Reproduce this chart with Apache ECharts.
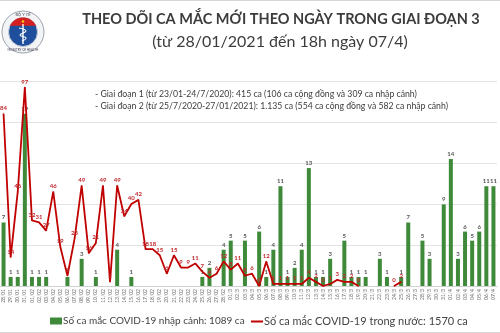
<!DOCTYPE html>
<html>
<head>
<meta charset="utf-8">
<script src="https://cdn.jsdelivr.net/npm/echarts@6/dist/echarts.min.js"></script>
<style>
  html, body { margin: 0; padding: 0; background: #fff; }
  #chart { width: 500px; height: 333px; }
</style>
</head>
<body>
<div id="chart"></div>
<script>
// Ngày (trục hoành)
const dates = [
  '28/01','29/01','30/01','31/01',
  '01/02','02/02','03/02','04/02','05/02','06/02','07/02','08/02','09/02','10/02',
  '11/02','12/02','13/02','14/02','15/02','16/02','17/02','18/02','19/02','20/02',
  '21/02','22/02','23/02','24/02','25/02','26/02','27/02','28/02',
  '01/3','02/3','03/3','04/3','05/3','06/3','07/3','08/3','09/3','10/3',
  '11/3','12/3','13/3','14/3','15/3','16/3','17/3','18/3','19/3','20/3',
  '21/3','22/3','23/3','24/3','25/3','26/3','27/3','28/3','29/3','30/3','31/3',
  '01/4','02/4','03/4','04/4','05/4','06/4','07/4'
];

// Số ca nhập cảnh mỗi ngày (cột xanh)
const importedCases = [
  7, 1, 1, 19,
  1, 1, 1, 0, 0, 1, 0, 3, 0, 1,
  0, 0, 4, 0, 1, 0, 0, 0, 0, 0,
  0, 0, 0, 0, 1, 2, 0, 4,
  5, 0, 5, 0, 6, 1, 4, 11, 1, 2,
  4, 13, 1, 1, 3, 0, 5, 1, 1, 1,
  0, 3, 1, 0, 1, 7, 0, 5, 3, 0, 9,
  14, 3, 6, 5, 6, 11, 11
];

// Số ca trong nước mỗi ngày (đường đỏ); null = không ghi nhận
const domesticCases = [
  84, 14, 46, 97,
  32, 31, 27, 46, 19, 5, 23, 49, 16, 21,
  49, 2, 49, 34, 40, 42, 18, 18, 15, 6,
  15, 9, 9, 11, 7, 4, 6, 12,
  8, 11, 5, 6, 0, 12, 1, 1, 1, 1,
  1, 4, 2, 0, 1, 3, 2, 2, 0, null,
  null, null, null, 0, 2, null, null, null, null, null, null,
  null, null, null, null, null, null, null
];

const nameImported = 'Số ca mắc COVID-19 nhập cảnh: 1089 ca';
const nameDomestic = 'Số ca mắc COVID-19 trong nước: 1570 ca';

const noteLines = [
  '- Giai đoạn 1 (từ 23/01-24/7/2020): 415 ca (106 ca cộng đồng và 309 ca nhập cảnh)',
  '- Giai đoạn 2 (từ 25/7/2020-27/01/2021): 1.135 ca (554 ca cộng đồng và 582 ca nhập cảnh)'
];

const FONT = 'Lato, "Open Sans", sans-serif';
const GREEN = '#3f8a3a';
const RED = '#c00000';

const chart = echarts.init(document.getElementById('chart'), null, { renderer: 'canvas' });

// Biểu trưng Bộ Y tế (vẽ đơn giản)
const cx = 23, cy = 32, rIn = 14.5;
const capPoints = [];
for (let a = 205; a <= 335; a += 5) {
  const t = a * Math.PI / 180;
  capPoints.push([cx + rIn * Math.cos(t), cy + rIn * Math.sin(t)]);
}
const logo = [
  { type: 'circle', shape: { cx, cy, r: 21 }, style: { fill: '#f3f4f6', stroke: '#9aa3ad', lineWidth: 1 } },
  { type: 'circle', shape: { cx, cy, r: rIn }, style: { fill: '#1f4f9c', stroke: '#c9ced6', lineWidth: 1 } },
  { type: 'polygon', shape: { points: capPoints }, style: { fill: '#d42020' } },
  { type: 'circle', shape: { cx, cy: 21.5, r: 1.3 }, style: { fill: '#f5d000' } },
  { type: 'line', shape: { x1: cx, y1: 24, x2: cx, y2: 44 }, style: { stroke: '#ffffff', lineWidth: 1.4 } },
  { type: 'polyline', shape: { points: [[19, 28], [26, 31], [20, 35], [26, 38], [22, 41]], smooth: 0.5 }, style: { fill: null, stroke: '#ffffff', lineWidth: 1.1 } },
  { type: 'text', style: { x: cx, y: 15, text: 'BỘ Y TẾ', fontSize: 4, fontFamily: FONT, fill: '#445', align: 'center', verticalAlign: 'middle' } },
  { type: 'text', style: { x: cx, y: 50, text: 'MINISTRY OF HEALTH', fontSize: 3, fontFamily: FONT, fill: '#445', align: 'center', verticalAlign: 'middle' } }
];

const option = {
  backgroundColor: '#ffffff',
  animation: false,
  title: [
    {
      text: 'THEO DÕI CA MẮC MỚI THEO NGÀY TRONG GIAI ĐOẠN 3',
      left: 281, top: 12, textAlign: 'center', padding: 0,
      textStyle: { fontFamily: FONT, fontSize: 14.5, fontWeight: 'bold', color: '#3c3c3c' }
    },
    {
      text: '(từ 28/01/2021 đến 18h ngày 07/4)',
      left: 280, top: 34, textAlign: 'center', padding: 0,
      textStyle: { fontFamily: FONT, fontSize: 16, fontWeight: 'normal', color: '#3c3c3c' }
    }
  ],
  legend: [
    {
      data: [{ name: nameImported, icon: 'rect' }],
      left: 50, top: 316, padding: 0,
      itemWidth: 12, itemHeight: 7, itemGap: 0,
      textStyle: { fontFamily: FONT, fontSize: 10, color: '#444', padding: [0, 0, 0, -4] }
    },
    {
      data: [{ name: nameDomestic, icon: 'rect' }],
      left: 251, top: 316, padding: 0,
      itemWidth: 12, itemHeight: 2, itemGap: 0,
      textStyle: { fontFamily: FONT, fontSize: 11, color: '#444', padding: [0, 0, 0, -4] }
    }
  ],
  grid: { left: 0, right: 3, top: 81, bottom: 47, containLabel: false, outerBoundsMode: 'none' },
  xAxis: {
    type: 'category',
    data: dates,
    axisLine: { lineStyle: { color: '#d0d0d0' } },
    axisTick: { show: false },
    axisLabel: { interval: 0, rotate: 90, fontSize: 5, color: '#666', fontFamily: FONT, margin: 3 }
  },
  yAxis: [
    {
      type: 'value', min: 0, max: 100, interval: 20,
      axisLabel: { show: false }, axisLine: { show: false }, axisTick: { show: false },
      splitLine: { lineStyle: { color: '#e3e3e3', width: 1 } }
    },
    {
      type: 'value', min: 0, max: 22.6,
      axisLabel: { show: false }, axisLine: { show: false }, axisTick: { show: false },
      splitLine: { show: false }
    }
  ],
  series: [
    {
      name: nameImported,
      type: 'bar',
      yAxisIndex: 1,
      data: importedCases,
      barWidth: 4,
      itemStyle: { color: GREEN },
      label: {
        show: true, position: 'top', distance: 2,
        fontSize: 6, fontWeight: 'bold', color: '#555', fontFamily: FONT,
        formatter: p => (p.value ? String(p.value) : '')
      },
      z: 2
    },
    {
      name: nameDomestic,
      type: 'line',
      yAxisIndex: 0,
      data: domesticCases,
      connectNulls: false,
      symbol: 'circle',
      symbolSize: 1,
      showSymbol: true,
      itemStyle: { color: RED },
      lineStyle: { color: RED, width: 1.8 },
      label: {
        show: true, position: 'top', distance: 2,
        fontSize: 6, fontWeight: 'bold', color: '#c0282d', fontFamily: FONT
      },
      z: 3
    }
  ],
  graphic: [
    { type: 'line', shape: { x1: 0, y1: 0.5, x2: 500, y2: 0.5 }, style: { stroke: '#d6d6d6', lineWidth: 1 } },
    { type: 'line', shape: { x1: 0, y1: 332.5, x2: 500, y2: 332.5 }, style: { stroke: '#d6d6d6', lineWidth: 1 } },
    ...logo,
    { type: 'text', style: { x: 95, y: 94, text: noteLines[0], fontSize: 8.7, fontFamily: FONT, fill: '#3c3c3c', verticalAlign: 'middle' } },
    { type: 'text', style: { x: 95, y: 106, text: noteLines[1], fontSize: 8.7, fontFamily: FONT, fill: '#3c3c3c', verticalAlign: 'middle' } }
  ]
};

chart.setOption(option);
</script>
</body>
</html>
